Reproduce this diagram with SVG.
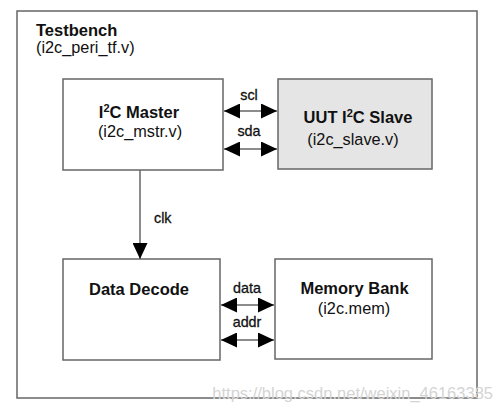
<svg xmlns="http://www.w3.org/2000/svg" width="497" height="413" viewBox="0 0 497 413">
<style>
.box{fill:#fff;stroke:#666;stroke-width:1.5}
.gray{fill:#e5e5e5}
.t{font-family:"Liberation Sans",Arial,sans-serif;fill:#111}
.b{font-weight:bold;font-size:16.5px}
.r{font-size:16.3px}
.s{font-size:14.3px;stroke:#111;stroke-width:0.3}
.ln{stroke:#666;stroke-width:1.5;fill:none}
.wm{font-family:"Liberation Sans",Arial,sans-serif;font-size:16.5px;fill:#d4d4d4}
</style>
<defs>
<marker id="ah" markerWidth="16" markerHeight="15" refX="16" refY="7.5" orient="auto-start-reverse" markerUnits="userSpaceOnUse">
<path d="M0,0 L16,7.5 L0,15 Z" fill="#000"/>
</marker>
</defs>
<rect width="497" height="413" fill="#fff"/>
<g id="testbench">
<rect class="box" x="17" y="11" width="460" height="387"/>
<text class="t b" x="36" y="36">Testbench</text>
<text class="t r" x="36" y="53">(i2c_peri_tf.v)</text>
</g>
<g id="master">
<rect class="box" x="63" y="79" width="160" height="91"/>
<text class="t b" x="139" y="118" text-anchor="middle">I<tspan font-size="11" dy="-6">2</tspan><tspan dy="6">C Master</tspan></text>
<text class="t r" x="140" y="137" text-anchor="middle">(i2c_mstr.v)</text>
</g>
<g id="slave">
<rect class="box gray" x="278" y="79" width="154" height="90"/>
<text class="t b" x="358" y="123" text-anchor="middle">UUT I<tspan font-size="11" dy="-6">2</tspan><tspan dy="6">C Slave</tspan></text>
<text class="t r" x="353" y="145" text-anchor="middle">(i2c_slave.v)</text>
</g>
<g id="decode">
<rect class="box" x="63" y="259" width="157" height="101"/>
<text class="t b" x="139" y="295" text-anchor="middle">Data Decode</text>
</g>
<g id="memory">
<rect class="box" x="275" y="259" width="157" height="100"/>
<text class="t b" x="354.5" y="294" text-anchor="middle">Memory Bank</text>
<text class="t r" x="354" y="314" text-anchor="middle">(i2c.mem)</text>
</g>
<g id="connectors">
<line class="ln" x1="224" y1="111" x2="277" y2="111" marker-start="url(#ah)" marker-end="url(#ah)"/>
<line class="ln" x1="224" y1="149" x2="277" y2="149" marker-start="url(#ah)" marker-end="url(#ah)"/>
<line class="ln" x1="140" y1="170" x2="140" y2="259" marker-end="url(#ah)"/>
<line class="ln" x1="221" y1="305" x2="274" y2="305" marker-start="url(#ah)" marker-end="url(#ah)"/>
<line class="ln" x1="221" y1="340" x2="274" y2="340" marker-start="url(#ah)" marker-end="url(#ah)"/>
<text class="t s" x="249" y="100" text-anchor="middle">scl</text>
<text class="t s" x="249" y="136" text-anchor="middle">sda</text>
<text class="t s" x="154" y="223">clk</text>
<text class="t s" x="247" y="293" text-anchor="middle">data</text>
<text class="t s" x="247" y="327" text-anchor="middle">addr</text>
</g>
<text class="wm" x="493" y="399" text-anchor="end">https://blog.csdn.net/weixin_46163385</text>
</svg>
